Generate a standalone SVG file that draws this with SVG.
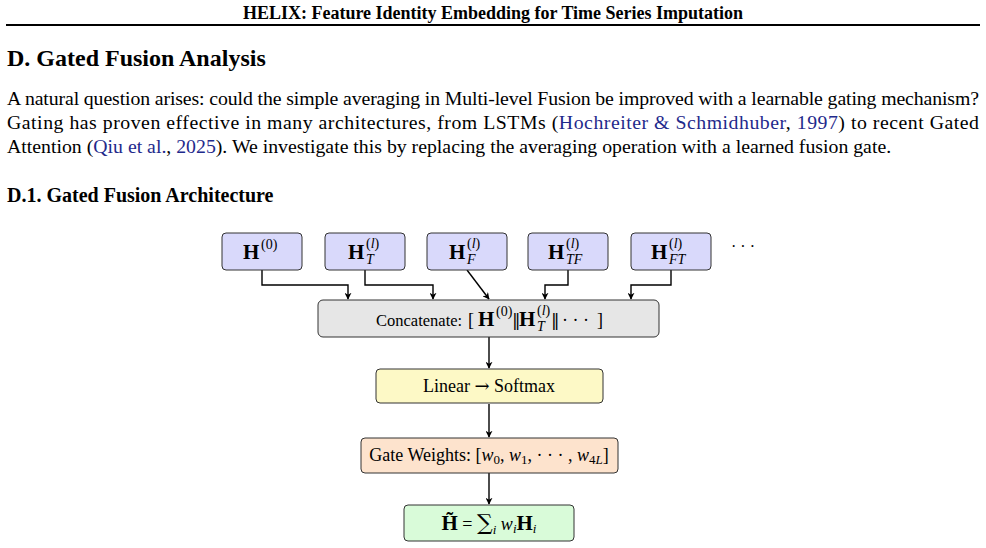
<svg xmlns="http://www.w3.org/2000/svg" width="986" height="548" viewBox="0 0 986 548">
<defs>
<style>
.t{font-family:"Liberation Serif","Times New Roman",serif;fill:#000}
.b{font-weight:bold}
.it{font-style:italic}
.lnk{fill:#1f2a8c}
.box{stroke:#333;stroke-width:1}
.in{fill:#d9d9fb}
.m{font-family:"Liberation Serif",serif;font-weight:bold;font-size:21px}
.sup{font-family:"Liberation Serif",serif;font-size:14px}
.sub{font-family:"Liberation Serif",serif;font-style:italic;font-size:14px}
.dj{font-family:"DejaVu Serif",serif}
.con{fill:none;stroke:#000;stroke-width:1.4}
</style>
<marker id="ah" viewBox="0 0 10 10" refX="9" refY="5" markerWidth="7" markerHeight="7" orient="auto" markerUnits="userSpaceOnUse">
<path d="M0,0 L10,5 L0,10 L3,5 z" fill="#000"/>
</marker>
</defs>
<rect width="986" height="548" fill="#fff"/>
<text class="t b" x="493" y="19" font-size="18" text-anchor="middle">HELIX: Feature Identity Embedding for Time Series Imputation</text>
<line x1="6" y1="25" x2="980" y2="25" stroke="#000" stroke-width="1.8"/>
<text class="t b" x="7" y="66" font-size="24">D. Gated Fusion Analysis</text>
<text class="t" x="7" y="105" font-size="19.8" textLength="972" lengthAdjust="spacing">A natural question arises: could the simple averaging in Multi-level Fusion be improved with a learnable gating mechanism?</text>
<text class="t" x="7" y="129" font-size="19.8" textLength="972" lengthAdjust="spacing">Gating has proven effective in many architectures, from LSTMs (<tspan class="lnk">Hochreiter &amp; Schmidhuber</tspan>, <tspan class="lnk">1997</tspan>) to recent Gated</text>
<text class="t" x="7" y="153" font-size="19.8">Attention (<tspan class="lnk">Qiu et al.</tspan>, <tspan class="lnk">2025</tspan>). We investigate this by replacing the averaging operation with a learned fusion gate.</text>
<text class="t b" x="7" y="202" font-size="20">D.1. Gated Fusion Architecture</text>

<g id="connectors">
<polyline class="con" points="262,270 262,285 348,285 348,299" marker-end="url(#ah)"/>
<polyline class="con" points="365,270 365,285 433,285 433,299" marker-end="url(#ah)"/>
<polyline class="con" points="467,270 489,299" marker-end="url(#ah)"/>
<polyline class="con" points="568,270 568,285 545,285 545,299" marker-end="url(#ah)"/>
<polyline class="con" points="671,270 671,285 631,285 631,299" marker-end="url(#ah)"/>
<line class="con" x1="489" y1="337" x2="489" y2="368" marker-end="url(#ah)"/>
<line class="con" x1="489" y1="404" x2="489" y2="437" marker-end="url(#ah)"/>
<line class="con" x1="489" y1="473" x2="489" y2="504" marker-end="url(#ah)"/>
</g>

<g id="h0">
<rect class="box in" x="222" y="233" width="80" height="37" rx="4"/>
<text class="m" x="243" y="259">H</text><text class="sup" x="261" y="249">(0)</text>
</g>
<g id="hT">
<rect class="box in" x="325" y="233" width="80" height="37" rx="4"/>
<text class="m" x="348" y="259">H</text><text class="sup" x="366" y="248">(<tspan font-style="italic">l</tspan>)</text><text class="sub" x="366" y="264">T</text>
</g>
<g id="hF">
<rect class="box in" x="427" y="233" width="80" height="37" rx="4"/>
<text class="m" x="449" y="259">H</text><text class="sup" x="467" y="248">(<tspan font-style="italic">l</tspan>)</text><text class="sub" x="467" y="264">F</text>
</g>
<g id="hTF">
<rect class="box in" x="528" y="233" width="80" height="37" rx="4"/>
<text class="m" x="548" y="259">H</text><text class="sup" x="566" y="248">(<tspan font-style="italic">l</tspan>)</text><text class="sub" x="566" y="264">TF</text>
</g>
<g id="hFT">
<rect class="box in" x="631" y="233" width="80" height="37" rx="4"/>
<text class="m" x="651" y="259">H</text><text class="sup" x="669" y="248">(<tspan font-style="italic">l</tspan>)</text><text class="sub" x="669" y="264">FT</text>
</g>
<g id="dots">
<text class="t" x="743" y="252" font-size="16" text-anchor="middle">· · ·</text>
</g>

<g id="concat">
<rect class="box" x="318" y="300" width="341" height="37" rx="5" fill="#e6e6e6"/>
<text class="t" x="376" y="326" font-size="16.5">Concatenate:</text>
<text class="t" x="468" y="326" font-size="18">[</text>
<text class="m" x="478" y="326">H</text><text class="sup" x="496" y="316">(0)</text>
<text class="t dj" x="512" y="326" font-size="17">‖</text>
<text class="m" x="519" y="326">H</text><text class="sup" x="537" y="315">(<tspan font-style="italic">l</tspan>)</text><text class="sub" x="537" y="331">T</text>
<text class="t dj" x="551" y="326" font-size="17">‖</text>
<text class="t" x="562" y="326" font-size="18">· · ·</text>
<text class="t" x="597" y="326" font-size="18">]</text>
</g>

<g id="linear">
<rect class="box" x="376" y="369" width="227" height="34" rx="4" fill="#fdf9c6"/>
<text class="t" x="489" y="392" font-size="18" text-anchor="middle">Linear <tspan class="dj" font-size="18">→</tspan> Softmax</text>
</g>

<g id="gate">
<rect class="box" x="361" y="438" width="257" height="35" rx="4" fill="#fde3cd"/>
<text class="t" x="489" y="461" font-size="18" text-anchor="middle">Gate Weights: [<tspan class="it">w</tspan><tspan font-size="13" dy="3">0</tspan><tspan dy="-3">, </tspan><tspan class="it">w</tspan><tspan font-size="13" dy="3">1</tspan><tspan dy="-3">, · · · , </tspan><tspan class="it">w</tspan><tspan font-size="13" dy="3">4<tspan class="it">L</tspan></tspan><tspan dy="-3">]</tspan></text>
</g>

<g id="result">
<rect class="box" x="404" y="505" width="170" height="36" rx="4" fill="#d9fbd9"/>
<text class="t" x="489" y="530" font-size="18" text-anchor="middle"><tspan font-weight="bold" font-size="21">H̃</tspan> = <tspan class="dj" font-size="22">∑</tspan><tspan class="it" font-size="13" dy="4">i</tspan><tspan dy="-4"> </tspan><tspan class="it">w</tspan><tspan class="it" font-size="13" dy="3">i</tspan><tspan font-weight="bold" font-size="21" dy="-3">H</tspan><tspan class="it" font-size="13" dy="3">i</tspan></text>
</g>
</svg>
